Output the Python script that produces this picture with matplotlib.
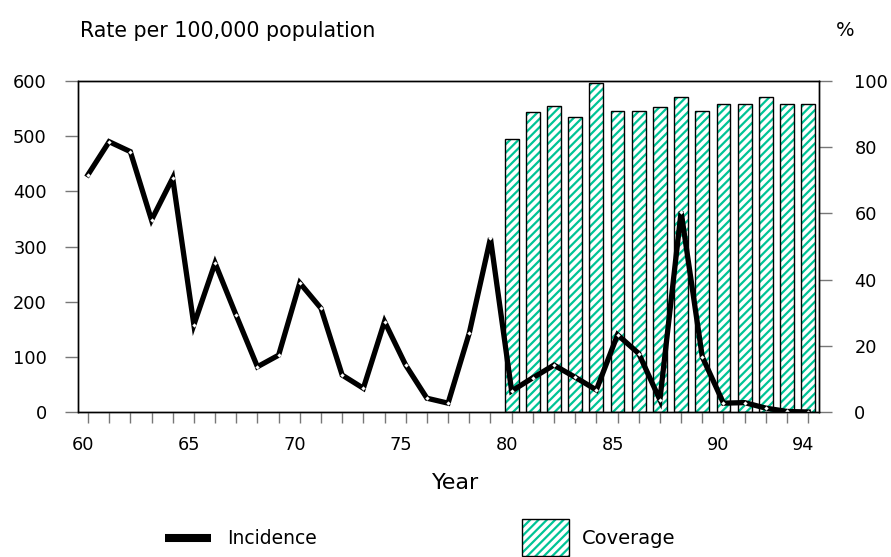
import numpy as np
import matplotlib.pyplot as plt
import matplotlib.transforms as mtransforms
from matplotlib.patches import Rectangle
from matplotlib.lines import Line2D

plt.rcParams['font.family'] = ['DejaVu Sans']
plt.rcParams['hatch.linewidth'] = 1.6

# Data
years = np.arange(60, 95)
incidence = [430, 490, 472, 348, 424, 158, 270, 175, 82, 103,
             234, 188, 67, 43, 164, 85, 25, 16, 143, 315,
             38, 62, 85, 63, 40, 140, 106, 22, 363, 100,
             16, 17, 7, 1, 0]
cov_years = np.arange(80, 95)
coverage = [82.5, 90.5, 92.5, 89.2, 99.3, 91, 91, 92, 95.3, 91,
            93, 93, 95.3, 93, 93]
label_years = [60, 65, 70, 75, 80, 85, 90, 94]

teal = '#00c496'
W, H = 891, 557

fig = plt.figure(figsize=(W / 100, H / 100), dpi=100)
ax = fig.add_axes([78 / W, (H - 412) / H, (819 - 78) / W, (412 - 81) / H])
ax2 = ax.twinx()
ax.set_zorder(2)
ax.patch.set_visible(False)

# coverage bars (right axis): hatch in teal, outline in black
ax2.bar(cov_years, coverage, width=0.65, color='white', edgecolor=teal,
        hatch='////', linewidth=0)
ax2.bar(cov_years, coverage, width=0.65, fill=False, edgecolor='black',
        linewidth=1.0)
ax2.set_ylim(0, 100)
ax2.set_yticks([0, 20, 40, 60, 80, 100])

# incidence line (left axis)
ax.plot(years, incidence, color='black', linewidth=3.8, solid_joinstyle='miter',
        marker='D', markersize=2.2, markerfacecolor='white', markeredgewidth=0)
ax.set_ylim(0, 600)
ax.set_yticks(range(0, 601, 100))
ax.set_xlim(59.53, 94.51)
ax.set_xticks(years)
ax.set_xticklabels([str(y) if y in label_years else '' for y in years])

for a in (ax, ax2):
    for s in a.spines.values():
        s.set_linewidth(1.0)
ax.tick_params(axis='x', direction='out', length=8, width=1, color='#777777',
               labelsize=12.8, pad=9)
ax.tick_params(axis='y', direction='out', length=9.4, width=1, color='#777777',
               labelsize=12.8, pad=13)
ax2.tick_params(axis='y', direction='out', length=9.4, width=1, color='#777777',
                labelsize=12.8, pad=16)
shift = mtransforms.ScaledTranslation(-5 / 100, 0, fig.dpi_scale_trans)
for lab in ax.get_xticklabels():
    lab.set_transform(lab.get_transform() + shift)

fig.text(80 / W, 1 - 31 / H, 'Rate per 100,000 population', fontsize=14.8,
         ha='left', va='center')
fig.text(845 / W, 1 - 31 / H, '%', fontsize=14, ha='center', va='center')
fig.text(456 / W, 1 - 483 / H, 'Year', fontsize=16, ha='center', va='center')

# legend drawn by hand
fig.add_artist(Line2D([165 / W, 211 / W], [1 - 538 / H, 1 - 538 / H],
                      color='black', linewidth=5.8, solid_capstyle='butt'))
fig.text(227 / W, 1 - 538 / H, 'Incidence', fontsize=13.5, ha='left', va='center')
fig.add_artist(Rectangle((522 / W, 1 - 556 / H), 47 / W, 37 / H,
                         transform=fig.transFigure, facecolor='white',
                         edgecolor=teal, hatch='////', linewidth=0))
fig.add_artist(Rectangle((522 / W, 1 - 556 / H), 47 / W, 37 / H,
                         transform=fig.transFigure, fill=False,
                         edgecolor='black', linewidth=1.0))
fig.text(582 / W, 1 - 538 / H, 'Coverage', fontsize=14, ha='left', va='center')

fig.savefig('out.png', dpi=100)
